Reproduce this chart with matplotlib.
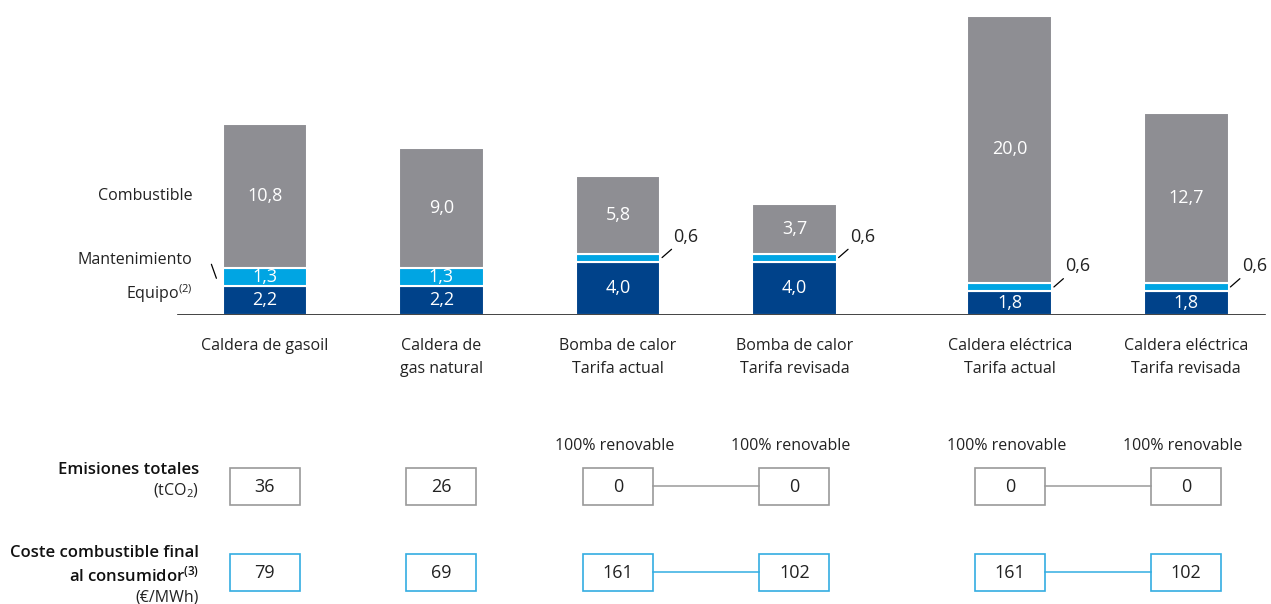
import matplotlib.pyplot as plt
import matplotlib.transforms as mtransforms
from matplotlib.patches import Rectangle

plt.rcParams['font.family'] = ['Open Sans', 'DejaVu Sans']
plt.rcParams['mathtext.default'] = 'regular'

# data
categories = ["Caldera de gasoil", "Caldera de\ngas natural", "Bomba de calor\nTarifa actual",
              "Bomba de calor\nTarifa revisada", "Caldera eléctrica\nTarifa actual",
              "Caldera eléctrica\nTarifa revisada"]
equipo = [2.2, 2.2, 4.0, 4.0, 1.8, 1.8]
mantenimiento = [1.3, 1.3, 0.6, 0.6, 0.6, 0.6]
combustible = [10.8, 9.0, 5.8, 3.7, 20.0, 12.7]
emisiones = [36, 26, 0, 0, 0, 0]
coste = [79, 69, 161, 102, 161, 102]
renovable = [False, False, True, True, True, True]
linked_pairs = [(2, 3), (4, 5)]

# colours
c_comb = "#8e8e93"
c_mant = "#00a5e3"
c_equi = "#00428a"
c_grey_box = "#9a9a9a"
c_blue_box = "#33ade2"
c_text = "#222222"

fmt = lambda v: f"{v:.1f}".replace(".", ",")

fig = plt.figure(figsize=(12.71, 6.04), dpi=100)
ax = fig.add_axes([0, 289 / 604, 1, 315 / 604])
ax.axis("off")
ax.set_xlim(-1.501, 5.70)
ax.set_ylim(0, 315 / 13.35)

xpos = [0, 1, 2, 3, 4.22, 5.22]
w = 0.48
fs = 11.5
fs_num = 13

ax.bar(xpos, equipo, w, color=c_equi, edgecolor="white", linewidth=1.5)
ax.bar(xpos, mantenimiento, w, bottom=equipo, color=c_mant, edgecolor="white", linewidth=1.5)
bottom3 = [a + b for a, b in zip(equipo, mantenimiento)]
ax.bar(xpos, combustible, w, bottom=bottom3, color=c_comb, edgecolor="white", linewidth=1.5)
ax.axhline(0, xmin=178 / 1271, xmax=1265 / 1271, color="#222222", lw=1.2)

for i, x in enumerate(xpos):
    ax.text(x, equipo[i] / 2, fmt(equipo[i]), ha="center", va="center", color="white",
            fontsize=fs_num)
    ax.text(x, bottom3[i] + combustible[i] / 2, fmt(combustible[i]), ha="center", va="center",
            color="white", fontsize=fs_num)
    mid = equipo[i] + mantenimiento[i] / 2
    if mantenimiento[i] >= 1:
        ax.text(x, mid, fmt(mantenimiento[i]), ha="center", va="center", color="white",
                fontsize=fs_num)
    else:
        ax.annotate(fmt(mantenimiento[i]), xy=(x + w / 2 + 0.01, mid), xytext=(24, 21),
                    textcoords="offset pixels", ha="center", va="center", fontsize=fs_num,
                    color=c_text,
                    arrowprops=dict(arrowstyle="-", color="black", lw=0.9, shrinkA=1, shrinkB=0))
    ax.annotate(categories[i], xy=(x, 0), xytext=(0, -23), textcoords="offset pixels",
                ha="center", va="top", fontsize=fs, color=c_text, linespacing=1.55)

# legend labels next to first bar
lx = xpos[0] - w / 2
ax.annotate("Combustible", xy=(lx, bottom3[0] + combustible[0] / 2), xytext=(-30, 0),
            textcoords="offset pixels", ha="right", va="center", fontsize=fs, color=c_text)
ax.annotate("Mantenimiento", xy=(lx, equipo[0] + mantenimiento[0] / 2), xytext=(-30, 17),
            textcoords="offset pixels", ha="right", va="center", fontsize=fs, color=c_text)
ax.annotate("Equipo$^{(2)}$", xy=(lx, equipo[0] / 2), xytext=(-30, 7),
            textcoords="offset pixels", ha="right", va="center", fontsize=fs, color=c_text)
ax.annotate("", xy=(lx - 0.035, equipo[0] + mantenimiento[0] / 2 - 0.1), xytext=(-5, 14),
            textcoords="offset pixels",
            arrowprops=dict(arrowstyle="-", color="black", lw=0.9, shrinkA=0, shrinkB=0))

# bottom rows
trans = mtransforms.blended_transform_factory(ax.transData, fig.transFigure)
bw = 70 / 176.5
bh = 37 / 604
rows = [(emisiones, 1 - 486 / 604, c_grey_box), (coste, 1 - 572 / 604, c_blue_box)]
for vals, yc, ec in rows:
    for i, x in enumerate(xpos):
        r = Rectangle((x - bw / 2, yc - bh / 2), bw, bh, transform=trans, facecolor="white",
                      edgecolor=ec, lw=1.2, clip_on=False)
        ax.add_patch(r)
        ax.text(x, yc - 0.002, str(vals[i]), transform=trans, ha="center", va="center",
                fontsize=fs_num, color=c_text)
    for a, b in linked_pairs:
        ax.plot([xpos[a] + bw / 2, xpos[b] - bw / 2], [yc, yc], transform=trans, color=ec,
                lw=1.1, clip_on=False)

for i, x in enumerate(xpos):
    if renovable[i]:
        ax.text(x - 0.02, 1 - 446 / 604, "100% renovable", transform=trans, ha="center",
                va="center", fontsize=fs, color=c_text)

rx = 199 / 1271
fs_row = 12
fig.text(rx, 1 - 470 / 604, "Emisiones totales", ha="right", va="center", fontsize=fs_row,
         fontweight="semibold", color="#111111")
fig.text(rx, 1 - 491 / 604, "(tCO$_2$)", ha="right", va="center", fontsize=fs, color=c_text)
fig.text(rx, 1 - 553 / 604, "Coste combustible final", ha="right", va="center", fontsize=fs_row,
         fontweight="semibold", color="#111111")
fig.text(rx, 1 - 575 / 604, "al consumidor$^{(3)}$", ha="right", va="center", fontsize=fs_row,
         fontweight="semibold", color="#111111")
fig.text(rx, 1 - 597 / 604, "(€/MWh)", ha="right", va="center", fontsize=fs, color=c_text)

fig.savefig("out.png", dpi=100)
